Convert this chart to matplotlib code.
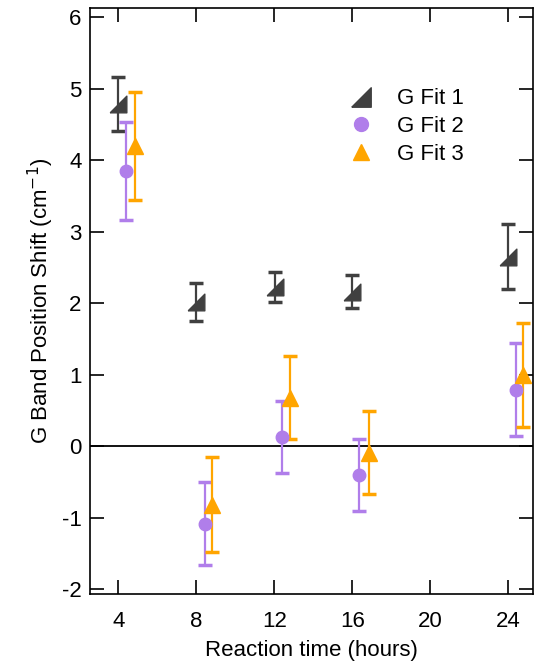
import matplotlib
matplotlib.use("Agg")
import matplotlib.pyplot as plt
from matplotlib.lines import Line2D

plt.rcParams['font.family'] = ['Liberation Sans', 'DejaVu Sans']
plt.rcParams['axes.unicode_minus'] = False

# Data
times = [4, 8, 12, 16, 24]
x_fit1 = [4.0, 8.0, 12.03, 16.0, 24.0]
x_fit2 = [4.4, 8.45, 12.4, 16.37, 24.38]
x_fit3 = [4.85, 8.8, 12.8, 16.85, 24.77]
fit1 = [4.79, 2.02, 2.23, 2.16, 2.65]
fit1_err = [0.375, 0.265, 0.205, 0.23, 0.455]
fit2 = [3.85, -1.08, 0.13, -0.40, 0.79]
fit2_err = [0.69, 0.58, 0.50, 0.50, 0.65]
fit3 = [4.20, -0.82, 0.68, -0.09, 1.00]
fit3_err = [0.755, 0.665, 0.58, 0.58, 0.725]
labels = ["G Fit 1", "G Fit 2", "G Fit 3"]
xticks = [4, 8, 12, 16, 20, 24]
yticks = [-2, -1, 0, 1, 2, 3, 4, 5, 6]

c1, c2, c3 = "#404040", "#B07EEA", "#FFA500"
rtri = [(-1, -1), (1, -1), (1, 1), (-1, -1)]

fig = plt.figure(figsize=(5.35, 6.69), dpi=100)
ax = fig.add_axes([0.1682, 0.1121, 0.8281, 0.8759])

ax.axhline(0, color="black", lw=1.3, zorder=1)

common = dict(linestyle="none", capsize=5, capthick=2.5, elinewidth=1.6, zorder=3)
ax.errorbar(x_fit1, fit1, yerr=fit1_err, color=c1, marker=rtri, markersize=12, **common)
ax.errorbar(x_fit2, fit2, yerr=fit2_err, color=c2, marker="o", markersize=9, **common)
ax.errorbar(x_fit3, fit3, yerr=fit3_err, color=c3, marker="^", markersize=11, **common)

ax.set_xlim(2.55, 25.27)
ax.set_ylim(-2.066, 6.13)
ax.set_xticks(xticks)
ax.set_yticks(yticks)
ax.tick_params(direction="in", length=10, width=1.2, labelsize=16,
               top=True, right=True)
ax.tick_params(axis="x", pad=12)
ax.tick_params(axis="y", pad=6)
for s in ax.spines.values():
    s.set_linewidth(1.2)

ax.set_xlabel("Reaction time (hours)", fontsize=16, labelpad=6)
ax.set_ylabel("G Band Position Shift (cm$^{-1}$)", fontsize=16, labelpad=4)

handles = [
    Line2D([], [], color=c1, marker=rtri, markersize=14, linestyle="none"),
    Line2D([], [], color=c2, marker="o", markersize=10, linestyle="none"),
    Line2D([], [], color=c3, marker="^", markersize=12, linestyle="none"),
]
ax.legend(handles, labels, loc="upper left", bbox_to_anchor=(0.53, 0.897),
          frameon=False, fontsize=16, handletextpad=0.85, labelspacing=0.3,
          handlelength=1.5)

fig.savefig("out.png", dpi=100)
